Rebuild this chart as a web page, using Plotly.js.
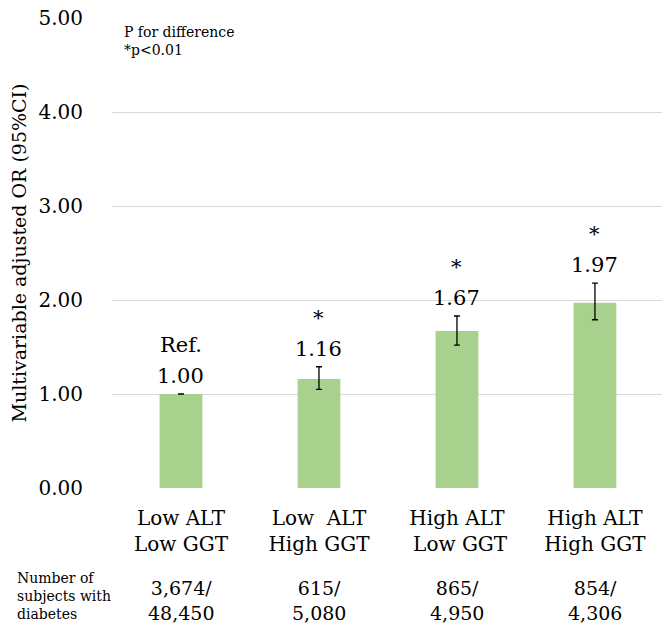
<!DOCTYPE html>
<html>
<head>
<meta charset="utf-8">
<script src="https://cdn.plot.ly/plotly-3.0.1.min.js"></script>
<style>html,body{margin:0;padding:0;background:#fff;}#chart{width:662px;height:630px;}</style>
</head>
<body>
<div id="chart"></div>
<script>
const categories = ['Low ALT<br>Low GGT', 'Low\u00a0\u00a0ALT<br>High GGT', 'High ALT<br>\u00a0Low GGT', 'High ALT<br>High GGT'];
const oddsRatios = [1.00, 1.16, 1.67, 1.97];
const ciUpper = [1.00, 1.29, 1.83, 2.18];
const ciLower = [1.00, 1.05, 1.52, 1.79];
const valueLabels = ['1.00', '1.16', '1.67', '1.97'];
const topLabels = ['Ref.', '*', '*', '*'];
const casesCount = ['3,674/', '615/', '865/', '854/'];
const totalCount = ['48,450', '5,080', '4,950', '4,306'];

const FONT = 'DejaVu Serif, serif';
const xIdx = categories.map((_, i) => i);

const trace = {
  type: 'bar',
  x: xIdx,
  y: oddsRatios,
  width: 0.31,
  marker: {color: '#A9D18E'},
  error_y: {
    type: 'data', symmetric: false,
    array: ciUpper.map((u, i) => u - oddsRatios[i]),
    arrayminus: ciLower.map((l, i) => oddsRatios[i] - l),
    color: '#000', thickness: 1.3, width: 3
  },
  hoverinfo: 'none'
};

const annotations = [];
xIdx.forEach(i => {
  annotations.push({x: i, y: ciUpper[i], xref: 'x', yref: 'y', text: valueLabels[i], showarrow: false,
    yanchor: 'middle', yshift: 18, font: {family: FONT, size: 21, color: '#000'}});
  annotations.push({x: i, y: ciUpper[i], xref: 'x', yref: 'y', text: topLabels[i], showarrow: false,
    yanchor: 'middle', yshift: 49, font: {family: FONT, size: 21, color: '#000'}});
  annotations.push({x: i, y: 0, xref: 'x', yref: 'paper', text: casesCount[i] + '<br>' + totalCount[i], showarrow: false,
    yanchor: 'middle', yshift: -112, font: {family: FONT, size: 19, color: '#000'}});
});
annotations.push({x: 0, xref: 'paper', y: 1, yref: 'paper', xanchor: 'left', yanchor: 'top', align: 'left',
  xshift: 10, yshift: -4, text: 'P for difference<br>*p<0.01', showarrow: false,
  font: {family: FONT, size: 14, color: '#000'}});
annotations.push({x: -0.177, xref: 'paper', y: 0, yref: 'paper', xanchor: 'left', yanchor: 'middle', align: 'left',
  text: 'Number of<br>subjects with<br>diabetes', showarrow: false, yshift: -108,
  font: {family: FONT, size: 14, color: '#000'}});

const layout = {
  width: 662, height: 630,
  margin: {l: 112, r: 0, t: 18, b: 142},
  paper_bgcolor: '#fff', plot_bgcolor: '#fff',
  showlegend: false,
  font: {family: FONT, color: '#000'},
  xaxis: {
    range: [-0.5, 3.486],
    tickmode: 'array', tickvals: xIdx, ticktext: categories,
    tickfont: {family: FONT, size: 20, color: '#000'},
    showgrid: false, zeroline: false, showline: false, ticks: '',
    ticklabelstandoff: 16,
    fixedrange: true
  },
  yaxis: {
    range: [0, 5], dtick: 1, tickformat: '.2f',
    tickfont: {family: FONT, size: 20, color: '#000'},
    gridcolor: '#d9d9d9', gridwidth: 1, zeroline: false, showline: false,
    ticklabelstandoff: 28,
    title: {text: 'Multivariable adjusted OR (95%CI)', font: {family: FONT, size: 19, color: '#000'}, standoff: 6},
    fixedrange: true
  },
  annotations: annotations
};

Plotly.newPlot('chart', [trace], layout, {displayModeBar: false, staticPlot: true});
</script>
</body>
</html>
